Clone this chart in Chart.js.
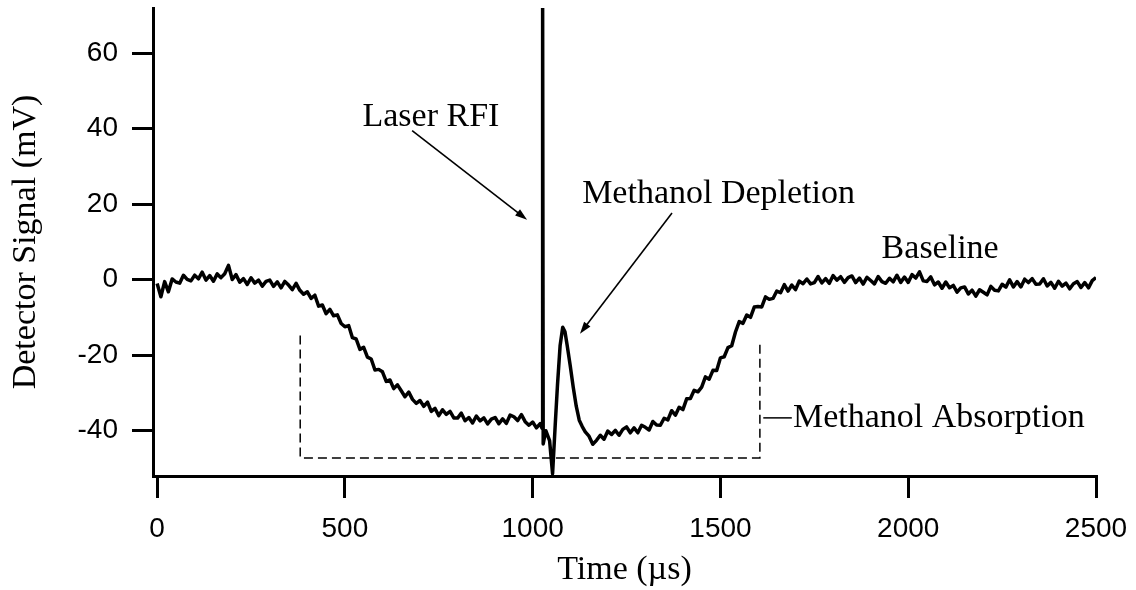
<!DOCTYPE html>
<html>
<head>
<meta charset="utf-8">
<title>Detector signal vs time</title>
<script src="https://cdn.jsdelivr.net/npm/chart.js@4.4.1/dist/chart.umd.min.js"></script>
<style>
  html, body { margin: 0; padding: 0; background: #fff; }
  #wrap { width: 1136px; height: 590px; position: relative; }
</style>
</head>
<body>
<div id="wrap"><canvas id="trace"></canvas></div>
<script>
// time axis of the trace (µs)
var timeUs = [
  0, 10, 20, 30, 40, 50, 60, 70, 80, 90,
  100, 110, 120, 130, 140, 150, 160, 170, 180, 190,
  200, 210, 220, 230, 240, 250, 260, 270, 280, 290,
  300, 310, 320, 330, 340, 350, 360, 370, 380, 390,
  400, 410, 420, 430, 440, 450, 460, 470, 480, 490,
  500, 510, 520, 530, 540, 550, 560, 570, 580, 590,
  600, 610, 620, 630, 640, 650, 660, 670, 680, 690,
  700, 710, 720, 730, 740, 750, 760, 770, 780, 790,
  800, 810, 820, 830, 840, 850, 860, 870, 880, 890,
  900, 910, 920, 930, 940, 950, 960, 970, 980, 990,
  1000, 1010, 1020,
  1025, 1026.5, 1028, 1035, 1045, 1053, 1060, 1066, 1073, 1080,
  1086, 1092, 1100, 1108, 1116, 1124, 1132, 1140,
  1150, 1160, 1170, 1180, 1190, 1200, 1210, 1220, 1230, 1240,
  1250, 1260, 1270, 1280, 1290, 1300, 1310, 1320, 1330, 1340,
  1350, 1360, 1370, 1380, 1390, 1400, 1410, 1420, 1430, 1440,
  1450, 1460, 1470, 1480, 1490, 1500, 1510, 1520, 1530, 1540,
  1550, 1560, 1570, 1580, 1590, 1600, 1610, 1620, 1630, 1640,
  1650, 1660, 1670, 1680, 1690, 1700, 1710, 1720, 1730, 1740,
  1750, 1760, 1770, 1780, 1790, 1800, 1810, 1820, 1830, 1840,
  1850, 1860, 1870, 1880, 1890, 1900, 1910, 1920, 1930, 1940,
  1950, 1960, 1970, 1980, 1990, 2000, 2010, 2020, 2030, 2040,
  2050, 2060, 2070, 2080, 2090, 2100, 2110, 2120, 2130, 2140,
  2150, 2160, 2170, 2180, 2190, 2200, 2210, 2220, 2230, 2240,
  2250, 2260, 2270, 2280, 2290, 2300, 2310, 2320, 2330, 2340,
  2350, 2360, 2370, 2380, 2390, 2400, 2410, 2420, 2430, 2440,
  2450, 2460, 2470, 2480, 2490, 2500
];

// detector signal (mV)
var signalMv = [
  -1.0, -4.5, -0.5, -3.2, 0.2, -0.6, -0.9, 1.2, 0.1, -0.3,
  1.2, 0.25, 2.0, -0.1, 1.1, -0.4, 1.55, 0.55, 1.6, 3.8,
  0.05, 1.35, -0.65, 0.3, -1.25, 0.5, -0.9, -0.1, -1.7, -0.45,
  -0.1, -1.75, -0.55, -2.15, -0.45, -1.4, -2.6, -0.95, -2.8, -3.85,
  -3.2, -4.95, -4.1, -7.0, -6.7, -9.0, -7.85, -9.55, -9.3, -11.6,
  -12.45, -12.15, -15.35, -15.7, -18.45, -17.9, -20.5, -21.0, -23.9, -23.75,
  -24.4, -26.95, -26.55, -28.85, -27.85, -29.4, -31.0, -29.75, -31.7, -32.75,
  -32.0, -33.55, -32.4, -34.9, -34.1, -36.0, -34.45, -35.65, -34.9, -36.6,
  -36.65, -35.35, -37.35, -36.5, -37.95, -36.1, -37.4, -36.6, -38.2, -36.95,
  -36.5, -38.15, -36.85, -38.05, -35.85, -36.3, -37.3, -35.75, -37.6, -38.55,
  -37.7, -39.25, -38.1,
  -39.4, 72, -43.5, -40.0, -42.6, -51.4, -38.5, -28.0, -17.5, -12.6,
  -13.8, -17.5, -22.8, -28.5, -33.5, -37.2, -38.9, -40.3,
  -41.45, -43.6, -42.55, -41.2, -42.25, -40.1, -41.0, -39.9, -41.2, -39.65,
  -39.0, -40.55, -39.25, -40.55, -38.55, -39.1, -39.8, -37.55, -38.5, -38.55,
  -36.7, -37.15, -34.7, -35.9, -33.8, -34.4, -31.55, -31.45, -29.3, -29.7,
  -28.45, -25.75, -26.35, -24.0, -24.05, -20.7, -20.4, -18.0, -17.5, -13.85,
  -11.1, -11.55, -9.35, -9.95, -7.25, -7.1, -7.2, -4.55, -5.2, -4.95,
  -3.0, -3.45, -1.3, -3.0, -1.4, -2.6, -0.35, -1.05, 0.2, -1.1,
  -0.75, 0.85, -0.85, 0.3, -0.95, 1.1, -0.1, 0.8, -0.7, 0.55,
  1.0, -0.75, 0.45, -1.15, 0.65, -0.2, -1.1, 0.85, -0.5, -0.95,
  0.4, -0.55, 1.2, -0.7, 0.7, -0.7, 1.35, 0.45, 2.1, -0.3,
  -0.45, 0.75, -1.35, -0.6, -2.25, -0.6, -2.1, -1.5, -3.3, -2.15,
  -1.9, -3.75, -2.75, -4.35, -2.65, -3.3, -4.0, -1.75, -2.8, -2.95,
  -1.2, -1.95, 0.0, -1.9, -0.5, -1.9, 0.15, -0.75, 0.3, -1.2,
  -1.15, 0.25, -1.65, -0.7, -2.25, -0.4, -1.7, -0.9, -2.4, -1.05,
  -0.5, -2.05, -0.75, -2.15, -0.25, 0.6
];

// dashed bracket marking the absorption window
var bracketTime = [381, 381, 1605, 1605];
var bracketSignal = [-14.8, -47.2, -47.2, -16.0];

// short leader line to the "Methanol Absorption" label
var leaderTime = [1614, 1690];
var leaderSignal = [-36.6, -36.6];

var xTicks = [0, 500, 1000, 1500, 2000, 2500];
var yTicks = [-40, -20, 0, 20, 40, 60];

var serif = '"Liberation Serif", "Times New Roman", serif';
var sans = '"Liberation Sans", Arial, sans-serif';

function pairs(xs, ys) {
  return xs.map(function (x, i) { return { x: x, y: ys[i] }; });
}

// text labels and arrows, placed in data coordinates
var notes = [
  { text: 'Laser RFI', x: 729, y: 43.0, align: 'center' },
  { text: 'Methanol Depletion', x: 1495, y: 22.6, align: 'center' },
  { text: 'Baseline', x: 2085, y: 8.2, align: 'center' },
  { text: 'Methanol Absorption', x: 1693, y: -36.6, align: 'left' }
];
var arrows = [
  { from: [679, 39.5], to: [985, 15.9] },
  { from: [1371, 17.7], to: [1126, -14.3] }
];

var notesPlugin = {
  id: 'notes',
  afterDatasetsDraw: function (chart) {
    var ctx = chart.ctx, xs = chart.scales.x, ys = chart.scales.y;
    ctx.save();
    ctx.fillStyle = '#000';
    ctx.strokeStyle = '#000';
    ctx.font = '34px ' + serif;
    ctx.textBaseline = 'middle';
    notes.forEach(function (n) {
      ctx.textAlign = n.align;
      ctx.fillText(n.text, xs.getPixelForValue(n.x), ys.getPixelForValue(n.y));
    });
    arrows.forEach(function (a) {
      var x0 = xs.getPixelForValue(a.from[0]), y0 = ys.getPixelForValue(a.from[1]);
      var x1 = xs.getPixelForValue(a.to[0]), y1 = ys.getPixelForValue(a.to[1]);
      var ang = Math.atan2(y1 - y0, x1 - x0);
      var hl = 12, hw = 4;
      ctx.lineWidth = 1.6;
      ctx.beginPath();
      ctx.moveTo(x0, y0);
      ctx.lineTo(x1 - hl * 0.8 * Math.cos(ang), y1 - hl * 0.8 * Math.sin(ang));
      ctx.stroke();
      ctx.beginPath();
      ctx.moveTo(x1, y1);
      ctx.lineTo(x1 - hl * Math.cos(ang) + hw * Math.sin(ang), y1 - hl * Math.sin(ang) - hw * Math.cos(ang));
      ctx.lineTo(x1 - hl * Math.cos(ang) - hw * Math.sin(ang), y1 - hl * Math.sin(ang) + hw * Math.cos(ang));
      ctx.closePath();
      ctx.fill();
    });
    ctx.restore();
  }
};

new Chart(document.getElementById('trace'), {
  type: 'line',
  data: {
    datasets: [
      {
        label: 'Detector signal',
        data: pairs(timeUs, signalMv),
        borderColor: '#000',
        borderWidth: 3.5,
        borderJoinStyle: 'round',
        pointRadius: 0,
        tension: 0,
        order: 0
      },
      {
        label: 'Absorption window',
        data: pairs(bracketTime, bracketSignal),
        borderColor: '#000',
        borderWidth: 1.5,
        borderDash: [9, 5],
        pointRadius: 0,
        order: 1
      },
      {
        label: 'Leader',
        data: pairs(leaderTime, leaderSignal),
        borderColor: '#000',
        borderWidth: 1.5,
        pointRadius: 0,
        order: 1
      }
    ]
  },
  options: {
    responsive: true,
    maintainAspectRatio: false,
    animation: false,
    layout: { padding: { left: 0, right: 40, top: 8, bottom: 0 } },
    plugins: {
      legend: { display: false },
      tooltip: { enabled: false }
    },
    scales: {
      x: {
        type: 'linear',
        min: -11,
        max: 2500,
        afterBuildTicks: function (s) { s.ticks = xTicks.map(function (v) { return { value: v }; }); },
        afterFit: function (s) { s.height = 114; s.paddingLeft = 0; s.paddingRight = 0; },
        grid: { drawOnChartArea: false, drawTicks: true, tickLength: 22, tickWidth: 3, tickColor: '#000', color: '#000', lineWidth: 3 },
        border: { display: true, color: '#000', width: 3 },
        ticks: {
          color: '#000',
          font: { family: sans, size: 28 },
          padding: 14,
          maxRotation: 0,
          autoSkip: false,
          callback: function (v) { return String(v); }
        },
        title: {
          display: true,
          text: 'Time (µs)',
          color: '#000',
          font: { family: serif, size: 34 },
          padding: { top: 0, bottom: 0 }
        }
      },
      y: {
        type: 'linear',
        min: -52,
        max: 72,
        afterBuildTicks: function (s) { s.ticks = yTicks.map(function (v) { return { value: v }; }); },
        afterFit: function (s) { s.width = 153; s.paddingTop = 0; s.paddingBottom = 0; },
        grid: { drawOnChartArea: false, drawTicks: true, tickLength: 21, tickWidth: 3, tickColor: '#000', color: '#000', lineWidth: 3 },
        border: { display: true, color: '#000', width: 3 },
        ticks: {
          color: '#000',
          font: { family: sans, size: 28 },
          padding: 14,
          autoSkip: false,
          callback: function (v) { return String(v); }
        },
        title: {
          display: true,
          text: 'Detector Signal (mV)',
          color: '#000',
          font: { family: serif, size: 34 },
          padding: { top: 6, bottom: 0 }
        }
      }
    }
  },
  plugins: [notesPlugin]
});
</script>
</body>
</html>
